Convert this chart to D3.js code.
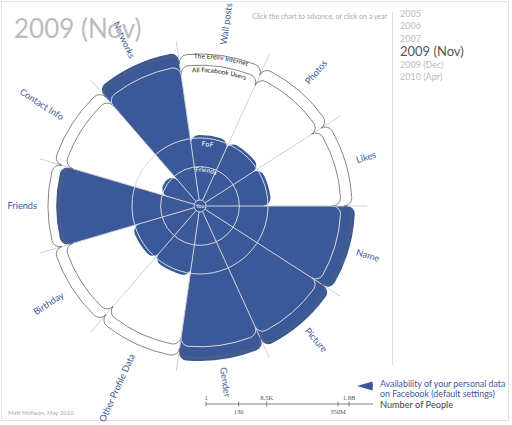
<!DOCTYPE html>
<html>
<head>
<meta charset="utf-8">
<script src="https://cdn.jsdelivr.net/npm/d3@7"></script>
<style>
  body { margin: 0; background: #fff; }
  svg text { font-family: Lato, "Open Sans", sans-serif; }
</style>
</head>
<body>
<svg id="chart" width="512" height="425"></svg>
<script>
// categorias del grafico, en el sentido de las agujas del reloj empezando a las 3
var categories = ["Name", "Picture", "Gender", "Other Profile Data", "Birthday", "Friends",
                  "Contact Info", "Networks", "Wall posts", "Photos", "Likes"];
// nivel de exposicion de cada categoria (indice en levelNames)
var exposure = [4, 4, 4, 2, 2, 3, 1, 4, 2, 2, 2];

var levelNames = ["You", "Friends", "FoF", "All Facebook Users", "The Entire Internet"];
var levelPeople = [1, 130, 8500, 350000000, 1800000000];
var tickLabels = ["1", "130", "8.5K", "350M", "1.8B"];

var years = ["2005", "2006", "2007", "2009 (Nov)", "2009 (Dec)", "2010 (Apr)"];
var currentYear = "2009 (Nov)";

var blue = "#3b5998";
var cx = 200, cy = 206;

var svg = d3.select("#chart");

// marco
svg.append("rect")
  .attr("x", 1.5).attr("y", 1.5).attr("width", 507).attr("height", 419)
  .attr("fill", "none").attr("stroke", "#e2e2e2");

var angle = d3.scaleLinear().domain([0, categories.length]).range([Math.PI / 2, Math.PI / 2 + 2 * Math.PI]);
var r = d3.scaleLog().domain([1, 1.8e9]).range([6, 152]);
var pad = 3;

var defs = svg.append("defs");
var g = svg.append("g").attr("transform", "translate(" + cx + "," + cy + ")");

var segs = categories.map(function(c, i) {
  return { name: c, level: exposure[i], a0: angle(i), a1: angle(i + 1) };
});

// anillos recortados para los bordes festoneados
[3, 4].forEach(function(l) {
  var R = r(levelPeople[l]);
  defs.append("clipPath").attr("id", "clip" + l)
    .append("path")
    .attr("transform", "translate(" + cx + "," + cy + ")")
    .attr("d", d3.arc()({ innerRadius: R - 8, outerRadius: R + 4, startAngle: 0, endAngle: 2 * Math.PI }));
});

function scallop(R) {
  return d3.arc().innerRadius(0).outerRadius(R).cornerRadius(8)
    .startAngle(function(d) { return d.a0; }).endAngle(function(d) { return d.a1; });
}

[3, 4].forEach(function(l) {
  svg.append("g").attr("clip-path", "url(#clip" + l + ")")
    .append("g").attr("transform", "translate(" + cx + "," + cy + ")")
    .selectAll("path").data(segs).enter().append("path")
      .attr("d", scallop(r(levelPeople[l])))
      .attr("fill", "none").attr("stroke", "#666").attr("stroke-width", 0.8);
});

// sectores azules
var blueArc = d3.arc().innerRadius(0).cornerRadius(8)
  .outerRadius(function(d) { return r(levelPeople[d.level]) + pad; })
  .startAngle(function(d) { return d.a0; }).endAngle(function(d) { return d.a1; });

g.selectAll("path.seg").data(segs).enter().append("path")
  .attr("class", "seg")
  .attr("d", blueArc)
  .attr("fill", blue);

// linea de "All Facebook Users" dentro de los sectores que llegan a todo internet
svg.append("g").attr("clip-path", "url(#clip3)")
  .append("g").attr("transform", "translate(" + cx + "," + cy + ")")
  .selectAll("path").data(segs.filter(function(d) { return d.level == 4; })).enter().append("path")
    .attr("d", scallop(r(levelPeople[3])))
    .attr("fill", "none").attr("stroke", "#d3d8e4").attr("stroke-width", 1);

// anillos Friends y FoF
[1, 2].forEach(function(l) {
  g.append("circle").attr("r", r(levelPeople[l]))
    .attr("fill", "none").attr("stroke", "#d3d8e4").attr("stroke-width", 1);
});

// lineas radiales
g.selectAll("line.spoke").data(segs).enter().append("line")
  .attr("class", "spoke")
  .attr("x1", function(d) { return r(1) * Math.sin(d.a0); })
  .attr("y1", function(d) { return -r(1) * Math.cos(d.a0); })
  .attr("x2", function(d) { return 167 * Math.sin(d.a0); })
  .attr("y2", function(d) { return -167 * Math.cos(d.a0); })
  .attr("stroke", "#cdd1d9").attr("stroke-width", 1);

// You
g.append("circle").attr("r", r(1)).attr("fill", blue).attr("stroke", "#d3d8e4").attr("stroke-width", 1);
g.append("text").attr("text-anchor", "middle").attr("dy", "0.35em")
  .attr("font-size", 5.5).attr("fill", "#fff").text(levelNames[0]);

// etiquetas de los niveles sobre el sector "Wall posts"
var labelAngle = (segs[8].a0 + segs[8].a1) / 2 - Math.PI / 2;
var ringLabels = [
  { text: levelNames[1], rr: r(levelPeople[1]) - 5, color: "#fff", size: 6.5, ang: labelAngle + 0.03 },
  { text: levelNames[2], rr: r(levelPeople[2]) - 8, color: "#fff", size: 7, ang: labelAngle - 0.02 },
  { text: levelNames[3], rr: r(levelPeople[3]) - 7, color: "#222", size: 6.5, ang: labelAngle },
  { text: levelNames[4], rr: r(levelPeople[4]) - 4.5, color: "#222", size: 6.5, ang: labelAngle }
];
ringLabels.forEach(function(d, i) {
  var p = d3.path();
  p.arc(0, 0, d.rr, d.ang - 0.8, d.ang + 0.8);
  defs.append("path").attr("id", "ring" + i).attr("d", p.toString());
  g.append("text").attr("font-size", d.size).attr("fill", d.color)
    .append("textPath").attr("href", "#ring" + i)
    .attr("startOffset", "50%").attr("text-anchor", "middle")
    .text(d.text);
});

// nombres de categorias
var labelR = 163;
g.selectAll("text.cat").data(segs).enter().append("text")
  .attr("class", "cat")
  .attr("font-size", 9.2)
  .attr("fill", blue)
  .attr("dy", "0.35em")
  .attr("transform", function(d) {
    var deg = ((d.a0 + d.a1) / 2) * 180 / Math.PI - 90;
    var flip = deg > 90 && deg < 270;
    return "rotate(" + deg + ") translate(" + labelR + ",0)" + (flip ? " rotate(180)" : "");
  })
  .attr("text-anchor", function(d) {
    var deg = ((d.a0 + d.a1) / 2) * 180 / Math.PI - 90;
    return (deg > 90 && deg < 270) ? "end" : "start";
  })
  .text(function(d) { return d.name; });

// titulo
svg.append("text").attr("x", 14).attr("y", 38)
  .attr("font-size", 26).attr("fill", "#bbb").text(currentYear);

svg.append("text").attr("x", 387).attr("y", 19).attr("text-anchor", "end")
  .attr("font-size", 7).attr("fill", "#aaa")
  .text("Click the chart to advance, or click on a year");

// lista de años
svg.append("line").attr("x1", 392.5).attr("x2", 392.5).attr("y1", 12).attr("y2", 365)
  .attr("stroke", "#ddd");

var yearY = [17, 29, 42, 56, 68, 80];
svg.selectAll("text.year").data(years).enter().append("text")
  .attr("class", "year")
  .attr("x", 400)
  .attr("y", function(d, i) { return yearY[i]; })
  .attr("font-size", function(d) { return d == currentYear ? 13 : 9; })
  .attr("fill", function(d) { return d == currentYear ? "#555" : "#bbb"; })
  .text(function(d) { return d; });

svg.append("text").attr("x", 8).attr("y", 415)
  .attr("font-size", 6).attr("fill", "#aaa").text("Matt McKeon, May 2010");

// leyenda
var legend = svg.append("g");
legend.append("path")
  .attr("transform", "translate(357,386)")
  .attr("d", d3.arc()({ innerRadius: 0, outerRadius: 16, startAngle: Math.PI / 2 - 0.28, endAngle: Math.PI / 2 + 0.28 }))
  .attr("fill", blue);
legend.append("text").attr("x", 380).attr("y", 387).attr("font-size", 8.8).attr("fill", blue)
  .text("Availability of your personal data");
legend.append("text").attr("x", 380).attr("y", 397).attr("font-size", 8.8).attr("fill", blue)
  .text("on Facebook (default settings)");
legend.append("text").attr("x", 380).attr("y", 408).attr("font-size", 9.2).attr("fill", "#444")
  .text("Number of People");

// eje de numero de personas
var x = d3.scaleLog().domain([1, 1.8e9]).range([206, 349]);
var axisY = 404;
legend.append("line").attr("x1", 206).attr("x2", 373).attr("y1", axisY).attr("y2", axisY)
  .attr("stroke", "#666").attr("stroke-width", 0.8);
legend.selectAll("line.tick").data(levelPeople).enter().append("line")
  .attr("class", "tick")
  .attr("x1", function(d) { return x(d); }).attr("x2", function(d) { return x(d); })
  .attr("y1", axisY - 2.5).attr("y2", axisY + 2.5)
  .attr("stroke", "#666").attr("stroke-width", 0.8);
legend.selectAll("text.tick").data(levelPeople).enter().append("text")
  .attr("class", "tick")
  .attr("x", function(d) { return x(d); })
  .attr("y", function(d, i) { return i % 2 == 0 ? axisY - 4 : axisY + 10; })
  .attr("text-anchor", "middle")
  .attr("font-size", 6.5).attr("fill", "#555")
  .style("font-family", "'Liberation Serif', serif")
  .text(function(d, i) { return tickLabels[i]; });
</script>
</body>
</html>
